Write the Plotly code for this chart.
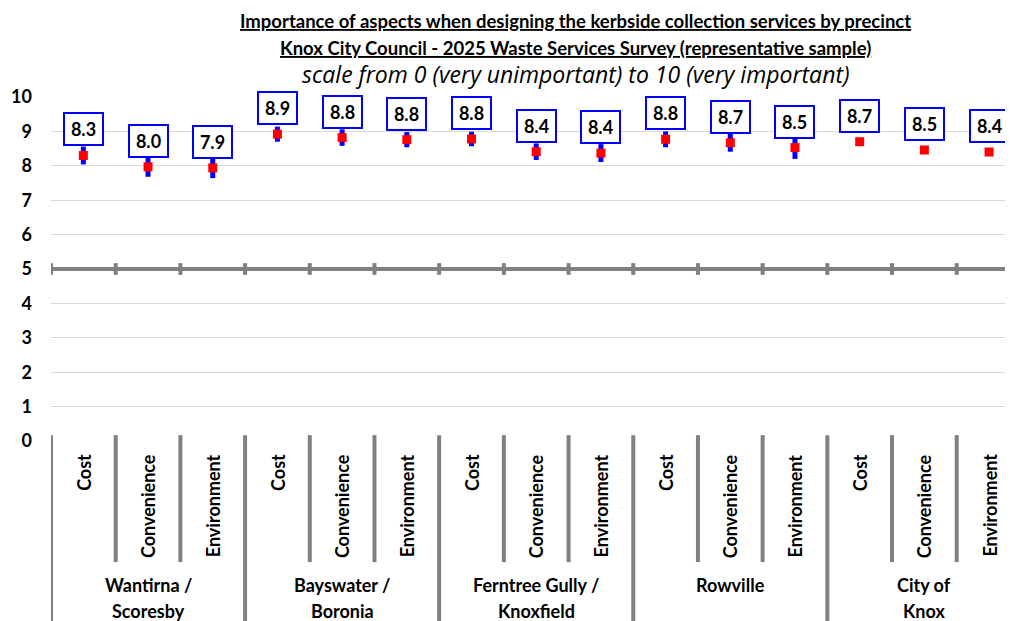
import plotly.graph_objects as go

# Survey results (mean importance scores with 95% confidence margins)
precincts = ["Wantirna /\nScoresby", "Bayswater /\nBoronia", "Ferntree Gully /\nKnoxfield",
             "Rowville", "City of\nKnox"]
aspects = ["Cost", "Convenience", "Environment"]

mean_scores = [8.30, 7.97, 7.94,
               8.92, 8.82, 8.76,
               8.78, 8.41, 8.37,
               8.77, 8.67, 8.53,
               8.70, 8.46, 8.40]
ci_margin = [0.26, 0.29, 0.30,
             0.22, 0.24, 0.22,
             0.21, 0.24, 0.26,
             0.23, 0.26, 0.33,
             0.02, 0.03, 0.03]
y_ticks = list(range(0, 11))

FONT = "Lato"
GREY = "#808080"

n_cat = len(precincts) * len(aspects)
xs = list(range(n_cat))

fig = go.Figure()
fig.add_trace(go.Scatter(
    x=xs, y=mean_scores, mode="markers",
    marker=dict(symbol="square", size=9, color="#FF0000"),
    error_y=dict(type="data", array=ci_margin, color="#0000FF", thickness=5, width=0),
    cliponaxis=False, hoverinfo="y",
))

shapes = []
# mid-scale line at 5 with category ticks
shapes.append(dict(type="line", xref="x", yref="y", x0=-0.5, x1=n_cat - 0.5, y0=5, y1=5,
                   line=dict(color=GREY, width=4), layer="above"))
for k in range(n_cat + 1):
    b = k - 0.5
    shapes.append(dict(type="line", xref="x", yref="y", x0=b, x1=b, y0=4.83, y1=5.17,
                       line=dict(color=GREY, width=4), layer="above"))
    bottom = -0.53 if k % len(aspects) == 0 else -0.352
    shapes.append(dict(type="line", xref="x", yref="paper", x0=b, x1=b, y0=0.017, y1=bottom,
                       line=dict(color=GREY, width=4)))

annotations = []
# value labels
for x, v in zip(xs, mean_scores):
    annotations.append(dict(
        x=x, y=v, xref="x", yref="y", yshift=26, showarrow=False,
        text=f"<b>{v:.1f}</b>", font=dict(family=FONT, size=18, color="black"),
        bgcolor="white", bordercolor="#0000FF", borderwidth=2, borderpad=2,
        width=33, height=26,
    ))
# sub-category labels
for i, x in enumerate(xs):
    annotations.append(dict(
        x=x, y=0, xref="x", yref="y", yshift=-11, yanchor="top", showarrow=False,
        textangle=-90, text=f"<b>{aspects[i % len(aspects)]}</b>",
        font=dict(family=FONT, size=18, color="black"),
    ))
# group labels
for g, name in enumerate(precincts):
    for j, line in enumerate(name.split("\n")):
        annotations.append(dict(
            x=g * len(aspects) + 1, y=-0.4186 - j * 0.0756, xref="x", yref="paper",
            yanchor="middle", showarrow=False, text=f"<b>{line}</b>",
            font=dict(family=FONT, size=18, color="black"),
        ))
# titles
title_x = 0.5457
annotations += [
    dict(x=title_x, y=1.221, xref="paper", yref="paper", yanchor="middle", showarrow=False,
         text="<b><u>Importance of aspects when designing the kerbside collection services by precinct</u></b>",
         font=dict(family=FONT, size=18.5, color="black")),
    dict(x=title_x, y=1.142, xref="paper", yref="paper", yanchor="middle", showarrow=False,
         text="<b><u>Knox City Council - 2025 Waste Services Survey (representative sample)</u></b>",
         font=dict(family=FONT, size=18.5, color="black")),
    dict(x=title_x, y=1.067, xref="paper", yref="paper", yanchor="middle", showarrow=False,
         text="<i>scale from 0 (very unimportant) to 10 (very important)</i>",
         font=dict(family="Open Sans", size=23, color="black")),
]

# page body adds an 8px offset, so the figure is 8px smaller and margins shifted
fig.update_layout(
    width=1005, height=613,
    margin=dict(l=43, r=0, t=89, b=180),
    paper_bgcolor="white", plot_bgcolor="white",
    showlegend=False,
    shapes=shapes, annotations=annotations,
    xaxis=dict(range=[-0.5, 14.37], showticklabels=False, showgrid=False,
               zeroline=False, showline=False, fixedrange=True),
    yaxis=dict(range=[0, 10], tickvals=y_ticks, showgrid=True, gridcolor="#D9D9D9",
               gridwidth=1, zeroline=False, showline=False, ticks="",
               ticklabelstandoff=18, automargin=False,
               tickfont=dict(family=FONT, size=18, color="black", weight="bold")),
)

fig.write_html("out.html")
